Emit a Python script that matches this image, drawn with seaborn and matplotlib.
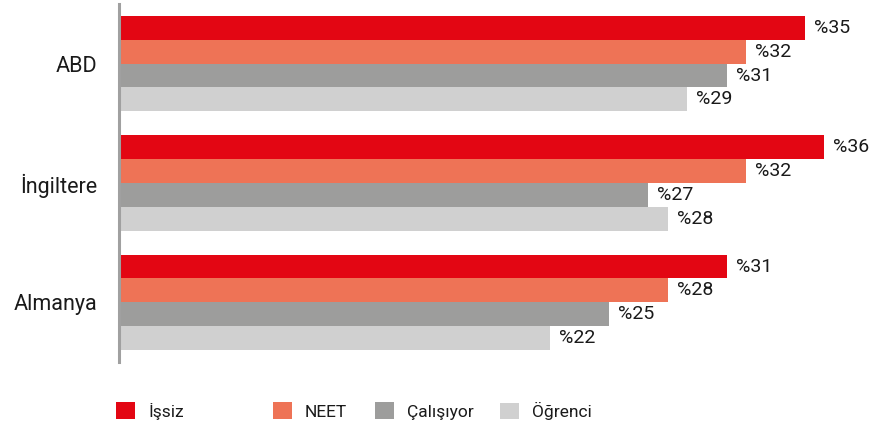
import pandas as pd
import numpy as np
import matplotlib.pyplot as plt
import seaborn as sns

# veriler
ulkeler = ['ABD', 'İngiltere', 'Almanya']
durumlar = ['İşsiz', 'NEET', 'Çalışıyor', 'Öğrenci']
issiz = [35, 36, 31]
neet = [32, 32, 28]
calisiyor = [31, 27, 25]
ogrenci = [29, 28, 22]
renkler = ['#e30613', '#ee7356', '#9d9d9c', '#d0d0d0']

df = pd.DataFrame({
    'ulke': ulkeler * 4,
    'durum': np.repeat(durumlar, 3),
    'oran': issiz + neet + calisiyor + ogrenci,
})

sns.set_style('white')
plt.rcParams['font.family'] = ['Roboto', 'DejaVu Sans']

fig = plt.figure(figsize=(8.93, 4.29), dpi=100)
ax = fig.add_axes([0.1338, 0.156, 0.8662, 0.835])

sns.barplot(data=df, y='ulke', x='oran', hue='durum', orient='h',
            palette=renkler, order=ulkeler, hue_order=durumlar,
            width=0.8, saturation=1, linewidth=0, ax=ax)

for cont in ax.containers:
    ax.bar_label(cont, labels=['%' + str(int(v)) for v in cont.datavalues],
                 padding=6.5, fontsize=14, color='#1a1a1a')

ax.set_xlim(0, 39.5)
ax.set_ylim(2.5, -0.5)
ax.set_xlabel('')
ax.set_ylabel('')
ax.set_xticks([])
ax.tick_params(axis='y', length=0, pad=16, labelsize=15.5, labelcolor='#1a1a1a')
for s in ['top', 'right', 'bottom']:
    ax.spines[s].set_visible(False)
ax.spines['left'].set_color('#a0a0a0')
ax.spines['left'].set_linewidth(2.2)

# lejant: her kalem ayrı yerde
handles, labels = ax.get_legend_handles_labels()
ax.get_legend().remove()
lejant_x = [116, 273, 375, 500]
for h, l, xp in zip(handles, labels, lejant_x):
    leg = fig.legend([h], [l], loc='center left',
                     bbox_to_anchor=(xp / 893, 1 - 411 / 429),
                     frameon=False, fontsize=12.5, handlelength=1.1,
                     handleheight=1.1, handletextpad=0.75,
                     borderpad=0, borderaxespad=0)
    for t in leg.get_texts():
        t.set_color('#1a1a1a')

fig.savefig('out.png', dpi=100)
